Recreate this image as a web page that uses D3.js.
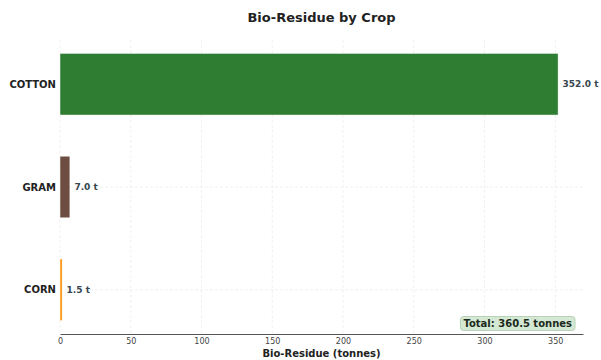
<!DOCTYPE html>
<html><head><meta charset="utf-8">
<script src="https://cdn.jsdelivr.net/npm/d3@7"></script>
<style>body{margin:0;background:#fff}svg{display:block}text{font-family:"DejaVu Sans",sans-serif}</style>
</head><body>
<svg id="c" width="601" height="360"></svg>
<script>
const crops = ["COTTON", "GRAM", "CORN"];
const residue = [352.0, 7.0, 1.5];
const colors = ["#2e7d32", "#6d4c41", "#ff8f00"];
const xTicks = [0, 50, 100, 150, 200, 250, 300, 350];
const title = "Bio-Residue by Crop";
const xLabel = "Bio-Residue (tonnes)";

const svg = d3.select("#c");
const L = 60, R = 583, T = 40, B = 334;
const x = d3.scaleLinear().domain([0, 352 * 1.05]).range([L, R]);
const y = d3.scaleBand().domain(crops).range([T, B]).paddingInner(0.4).paddingOuter(0.13);

// grid
const g = svg.append("g");
g.selectAll("line.vx").data(xTicks).join("line")
  .attr("x1", d => x(d)).attr("x2", d => x(d)).attr("y1", T).attr("y2", B)
  .attr("stroke", "#eeeeee").attr("stroke-width", 0.8).attr("stroke-dasharray", "3,2");
g.selectAll("line.hy").data(crops).join("line")
  .attr("x1", L).attr("x2", R).attr("y1", d => y(d) + y.bandwidth() / 2).attr("y2", d => y(d) + y.bandwidth() / 2)
  .attr("stroke", "#eeeeee").attr("stroke-width", 0.8).attr("stroke-dasharray", "3,2");

// bars
svg.selectAll("rect.bar").data(crops).join("rect")
  .attr("x", x(0)).attr("y", d => y(d))
  .attr("width", (d, i) => x(residue[i]) - x(0)).attr("height", y.bandwidth())
  .attr("fill", (d, i) => colors[i]).attr("stroke", "#fff").attr("stroke-width", 0.5);

// value labels
svg.selectAll("text.val").data(crops).join("text")
  .attr("x", (d, i) => x(residue[i]) + 4.5).attr("y", d => y(d) + y.bandwidth() / 2)
  .attr("dy", "0.35em").attr("font-size", 9).attr("font-weight", "bold").attr("fill", "#37474f")
  .text((d, i) => residue[i].toFixed(1) + " t");

// y labels
svg.selectAll("text.cat").data(crops).join("text")
  .attr("x", L - 4).attr("y", d => y(d) + y.bandwidth() / 2)
  .attr("dy", "0.35em").attr("text-anchor", "end").attr("font-size", 10).attr("font-weight", "bold").attr("fill", "#222")
  .text(d => d);

// x axis
const ax = svg.append("g").attr("transform", `translate(0,${B})`)
  .call(d3.axisBottom(x).tickValues(xTicks).tickSize(0).tickPadding(4));
ax.select(".domain").attr("stroke", "#555").attr("stroke-width", 1.2);
ax.selectAll("text").attr("font-size", 8).attr("fill", "#444").style("font-family", "DejaVu Sans");

svg.append("text").attr("x", (L + R) / 2).attr("y", 357).attr("text-anchor", "middle")
  .attr("font-size", 10).attr("font-weight", "bold").attr("fill", "#222").text(xLabel);

svg.append("text").attr("x", (L + R) / 2).attr("y", 22).attr("text-anchor", "middle")
  .attr("font-size", 13).attr("font-weight", "bold").attr("fill", "#222").text(title);

// total box
const total = d3.sum(residue);
const tg = svg.append("g");
const tt = tg.append("text").attr("x", R - 11).attr("y", 323.5).attr("dy", "0.35em").attr("text-anchor", "end")
  .attr("font-size", 10).attr("font-weight", "bold").attr("fill", "#1b2a1b")
  .text(`Total: ${total.toFixed(1)} tonnes`);
const bb = tt.node().getBBox();
tg.insert("rect", "text").attr("x", bb.x - 3).attr("y", bb.y - 1.5).attr("width", bb.width + 6).attr("height", bb.height + 3)
  .attr("rx", 3).attr("fill", "#d4e8d4").attr("stroke", "#a9c9a9").attr("stroke-width", 0.8);
</script>
</body></html>
